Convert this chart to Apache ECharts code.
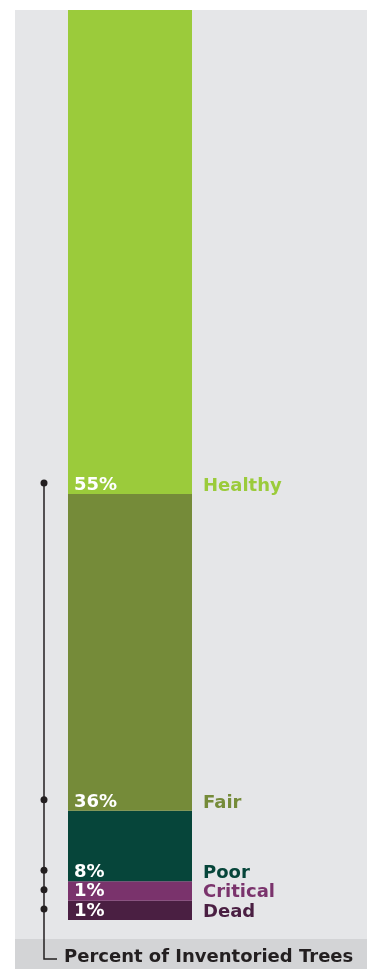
<!DOCTYPE html>
<html>
<head>
<meta charset="utf-8">
<script src="https://cdn.jsdelivr.net/npm/echarts@6/dist/echarts.min.js"></script>
<style>
  html, body { margin: 0; padding: 0; background: #ffffff; }
  #chart { width: 367px; height: 969px; }
</style>
</head>
<body>
<div id="chart"></div>
<script>
// stacked bottom -> top
const categories = ['Dead', 'Critical', 'Poor', 'Fair', 'Healthy'];
const percents = [1, 1, 8, 36, 55];
const colors = ['#4a1f42', '#7a336c', '#06453a', '#758b39', '#9bcb3b'];
const axisTitle = 'Percent of Inventoried Trees';

// tiny segments get a minimum drawn share so their labels stay readable
const MIN_SHARE = 2.2;

const FONT = '"DejaVu Sans", "Open Sans", sans-serif';
const drawn = percents.map(v => Math.max(v, MIN_SHARE));
const total = drawn.reduce((a, b) => a + b, 0);

const chart = echarts.init(document.getElementById('chart'));

const series = categories.map((name, i) => ({
  name: name,
  type: 'bar',
  stack: 'trees',
  barWidth: '100%',
  data: [drawn[i]],
  itemStyle: { color: colors[i] },
  label: {
    show: true,
    position: 'insideBottomLeft',
    distance: 0,
    offset: [6, 1],
    formatter: () => '{p|' + percents[i] + '%}{n|' + name + '}',
    rich: {
      p: {
        color: '#ffffff',
        fontFamily: FONT,
        fontWeight: 'bold',
        fontSize: 18,
        lineHeight: 19,
        width: 129,
        padding: [0, 0, 6, 0],
        verticalAlign: 'top'
      },
      n: {
        color: colors[i],
        fontFamily: FONT,
        fontWeight: 'bold',
        fontSize: 18,
        lineHeight: 19,
        verticalAlign: 'bottom'
      }
    }
  },
  emphasis: { disabled: true },
  silent: true
}));

const option = {
  animation: false,
  backgroundColor: '#ffffff',
  title: {
    text: axisTitle,
    left: 64,
    top: 948,
    padding: 0,
    textStyle: { color: '#231f20', fontFamily: FONT, fontWeight: 'bold', fontSize: 18 }
  },
  grid: { left: 68, width: 124, top: 10, bottom: 49 },
  xAxis: { type: 'category', data: ['Trees'], show: false },
  yAxis: { type: 'value', min: 0, max: total, show: false },
  series: series
};

chart.setOption(option);

// panel + bracket, placed from the axis scale
function drawDecor() {
  const els = [
    { type: 'rect', z: -10, shape: { x: 15, y: 10, width: 352, height: 929 }, style: { fill: '#e5e6e8' } },
    { type: 'rect', z: -10, shape: { x: 15, y: 939, width: 352, height: 30 }, style: { fill: '#d3d4d6' } }
  ];
  let cum = 0;
  let firstY = null;
  const lineX = 44;
  drawn.forEach((v) => {
    const yBase = chart.convertToPixel({ gridIndex: 0 }, [0, cum])[1];
    cum += v;
    const yDot = yBase - 11;
    if (firstY === null || yDot < firstY) firstY = yDot;
    els.push({ type: 'circle', z: 10, shape: { cx: lineX, cy: yDot, r: 3.5 }, style: { fill: '#231f20' } });
  });
  els.push({
    type: 'polyline', z: 9,
    shape: { points: [[lineX, firstY], [lineX, 959], [57, 959]] },
    style: { stroke: '#231f20', lineWidth: 1.5, fill: null }
  });
  chart.setOption({ graphic: els });
}
drawDecor();
</script>
</body>
</html>
